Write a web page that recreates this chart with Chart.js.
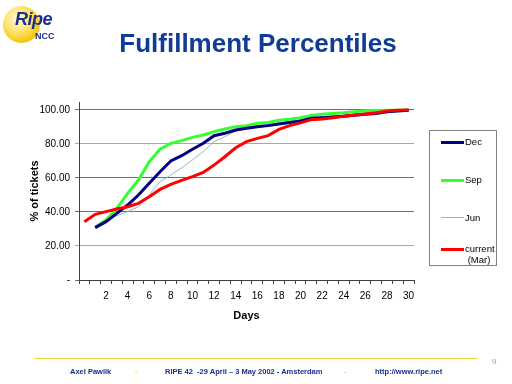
<!DOCTYPE html>
<html>
<head>
<meta charset="utf-8">
<script src="https://cdn.jsdelivr.net/npm/chart.js@4/dist/chart.umd.min.js"></script>
<style>
  html,body{margin:0;padding:0;background:#fff;}
  #wrap{position:relative;width:512px;height:384px;overflow:hidden;font-family:"Liberation Sans",Arial,sans-serif;}
  #c{position:absolute;left:0;top:0;}
  .abs{position:absolute;white-space:nowrap;}
  #title{left:2px;width:512px;top:28px;text-align:center;font-weight:bold;font-size:26px;color:#103c96;}
  #logo{left:3px;top:6px;width:37px;height:37px;border-radius:50%;
        background:radial-gradient(circle at 40% 35%,#fffbe0 0%,#ffe680 35%,#f5c400 75%,#e0a800 100%);}
  #ripe{left:15px;top:9px;font-size:18px;font-weight:bold;font-style:italic;color:#1a2f8a;letter-spacing:-0.5px;}
  #ncc{left:35px;top:31px;font-size:9px;font-weight:bold;color:#1a2f8a;}
  #legend{left:429px;top:130px;width:68px;height:136px;border:1px solid #808080;box-sizing:border-box;}
  .lg{position:absolute;font-size:9.5px;color:#000;}
  .sw{position:absolute;left:11px;width:23px;}
  #footline{left:34px;top:358px;width:444px;height:1px;background:#f0d040;}
  .ft{font-size:7.5px;font-weight:bold;color:#1a2f8a;top:367px;}
  .dot{font-size:8px;font-weight:bold;color:#f0c000;top:366px;}
  #pg{left:492px;top:357px;font-size:8px;color:#999;}
</style>
</head>
<body>
<div id="wrap">
  <canvas id="c" width="512" height="384"></canvas>
  <div id="logo" class="abs"></div>
  <div id="ripe" class="abs">Ripe</div>
  <div id="ncc" class="abs">NCC</div>
  <div id="title" class="abs">Fulfillment Percentiles</div>
  <div id="legend" class="abs">
    <div class="sw" style="top:10px;height:3px;background:#000080"></div>
    <div class="lg" style="left:35px;top:5px">Dec</div>
    <div class="sw" style="top:48px;height:3px;background:#33ff33"></div>
    <div class="lg" style="left:35px;top:43px">Sep</div>
    <div class="sw" style="top:86px;height:1px;background:#8fbcb4"></div>
    <div class="lg" style="left:35px;top:81px">Jun</div>
    <div class="sw" style="top:117px;height:3px;background:#ff0000"></div>
    <div class="lg" style="left:35px;top:112px;line-height:11px">current<br>&nbsp;(Mar)</div>
  </div>
  <div id="footline" class="abs"></div>
  <div class="abs ft" style="left:70px">Axel Pawlik</div>
  <div class="abs dot" style="left:135px">.</div>
  <div class="abs ft" style="left:165px">RIPE 42 &nbsp;-29 April – 3 May 2002 - Amsterdam</div>
  <div class="abs dot" style="left:344px">.</div>
  <div class="abs ft" style="left:375px">http://www.ripe.net</div>
  <div id="pg" class="abs">9</div>
</div>
<script>
// Days 0..30
const days = Array.from({length:31},(_, i)=>String(i));
const yTickValues = [0,20,40,60,80,100];
const decValues = [null,30.8,34.3,39.2,44.1,50.0,56.9,63.7,70.0,73.1,76.9,80.4,84.9,86.3,88.2,89.2,90.2,90.8,91.8,92.7,93.5,95.1,95.5,95.9,96.3,96.9,97.5,98.0,99.0,99.4,99.8];
const sepValues = [null,31.0,35.3,42.2,51.0,58.8,69.6,77.0,80.4,82.0,83.9,85.3,87.3,88.8,90.2,90.8,92.2,92.7,93.9,94.5,95.5,96.7,97.5,98.0,98.4,99.0,99.6,99.7,99.8,99.9,100.0];
const junValues = [null,30.8,35.5,37.8,40.2,43.1,50.0,57.8,61.8,66.0,70.6,75.5,81.4,84.3,87.6,89.5,90.8,91.5,92.5,93.3,94.2,95.3,96.0,96.5,97.0,97.6,98.2,98.7,99.2,99.6,100.0];
const curValues = [34.3,38.6,40.2,41.8,43.1,45.1,49.0,53.3,56.3,58.6,60.8,63.3,67.6,72.5,77.8,81.4,83.3,84.9,88.6,90.8,92.4,94.3,94.7,95.5,96.3,97.0,97.6,98.4,99.4,99.8,100.0];

const font = {family:'"Liberation Sans", Arial, sans-serif', size:10};
new Chart(document.getElementById('c'), {
  type:'line',
  data:{
    labels: days,
    datasets:[
      {label:'Jun', data:junValues, borderColor:'#8fbcb4', borderWidth:1, pointRadius:0, tension:0, order:4},
      {label:'Sep', data:sepValues, borderColor:'#33ff33', borderWidth:3, pointRadius:0, tension:0, order:3},
      {label:'Dec', data:decValues, borderColor:'#000080', borderWidth:3, pointRadius:0, tension:0, order:2},
      {label:'current (Mar)', data:curValues, borderColor:'#ff0000', borderWidth:3, pointRadius:0, tension:0, order:1}
    ]
  },
  options:{
    responsive:false, animation:false,
    layout:{padding:{left:20,right:98,top:102,bottom:59}},
    plugins:{legend:{display:false}, tooltip:{enabled:false}},
    scales:{
      x:{
        offset:true,
        grid:{offset:true, drawOnChartArea:false, drawTicks:true, tickLength:4, color:'#404040'},
        border:{color:'#404040'},
        ticks:{autoSkip:false, maxRotation:0, padding:6, color:'#000', font:font,
          callback:function(v,i){ const d = Number(days[i]); return (d>0 && d%2===0) ? String(d) : ''; }},
        title:{display:true, text:'Days', color:'#000', font:{family:font.family, size:11, weight:'bold'}, padding:{top:0,bottom:2}},
        afterFit:function(s){ s.height = 45; }
      },
      y:{
        min:0, max:104.7,
        grid:{drawTicks:true, tickLength:4, color:function(ctx){ const v = ctx.tick && ctx.tick.value; return (v===20||v===80)?'#a8a8a8':'#707070'; }},
        border:{color:'#404040'},
        afterBuildTicks:function(s){ s.ticks = yTickValues.map(v=>({value:v})); },
        ticks:{color:'#000', font:font, padding:5,
          callback:function(v){ return v===0 ? '-' : Number(v).toFixed(2); }},
        title:{display:true, text:'% of tickets', color:'#000', font:{family:font.family, size:11, weight:'bold'}, padding:{top:8,bottom:0}},
        afterFit:function(s){ s.width = 59; }
      }
    }
  }
});
</script>
</body>
</html>
